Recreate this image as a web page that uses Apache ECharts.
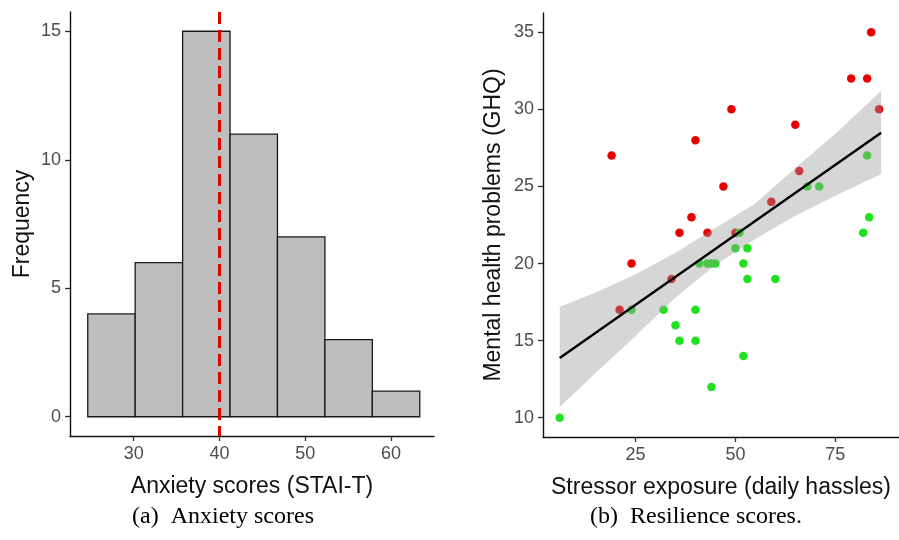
<!DOCTYPE html>
<html>
<head>
<meta charset="utf-8">
<script src="https://cdn.jsdelivr.net/npm/echarts@6/dist/echarts.min.js"></script>
<style>
html,body{margin:0;padding:0;background:#fff;}
#c{width:899px;height:540px;}
</style>
</head>
<body>
<div id="c"></div>
<script>
// ---- Panel (a): histogram of anxiety scores ----
const binStart = [24.64, 30.17, 35.70, 41.23, 46.76, 52.29, 57.82];
const binEnd   = [30.17, 35.70, 41.23, 46.76, 52.29, 57.82, 63.35];
const counts   = [4, 6, 15, 11, 7, 3, 1];
const meanAnxiety = 40;
const histXTicks = [30, 40, 50, 60];
const histYTicks = [0, 5, 10, 15];

// ---- Panel (b): stressor exposure vs mental health ----
const highX = [19, 49, 40, 65, 79, 83, 84, 86, 47, 39, 36, 66, 59, 43, 50, 24, 34, 21];
const highY = [27, 30, 28, 29, 32, 32, 35, 30, 25, 23, 22, 26, 24, 22, 22, 20, 19, 17];
const lowX  = [83, 68, 71, 83.5, 82, 51, 24, 32, 40, 35, 36, 40, 52, 44, 6, 41, 43, 44, 45, 50, 53, 52, 53, 60];
const lowY  = [27, 25, 25, 23, 22, 22, 17, 17, 17, 16, 15, 15, 14, 12, 10, 20, 20, 20, 20, 21, 21, 20, 19, 19];
const fitX = [6, 86.5];
const fitY = [13.87, 28.48];
const bandX     = [6, 15, 25, 35, 45, 55, 65, 75, 86.5];
const bandUpper = [17.2, 18.1, 19.3, 20.7, 22.3, 23.9, 26.2, 28.4, 31.2];
const bandLower = [10.7, 12.9, 15.3, 17.8, 19.9, 21.6, 23.1, 24.4, 25.8];
const scatXTicks = [25, 50, 75];
const scatYTicks = [10, 15, 20, 25, 30, 35];

const labelFont = {fontFamily: 'Liberation Sans', fontSize: 18, color: '#4d4d4d'};
const titleFont = {fontFamily: 'Liberation Sans', fontSize: 23, color: '#111'};

function axisBase(ticks) {
  return {
    type: 'value',
    splitLine: {show: false},
    axisLine: {show: true, onZero: false, lineStyle: {color: '#111', width: 1.4}},
    axisTick: {show: true, length: 5, lineStyle: {color: '#333', width: 1.3}, customValues: ticks},
    axisLabel: Object.assign({customValues: ticks, margin: 9}, labelFont),
    nameLocation: 'middle',
    nameTextStyle: titleFont
  };
}

const chart = echarts.init(document.getElementById('c'), null, {renderer: 'canvas'});

const option = {
  backgroundColor: '#fff',
  animation: false,
  grid: [
    {left: 70, top: 12, width: 364, height: 424},
    {left: 543, top: 13, width: 368, height: 424}
  ],
  xAxis: [
    Object.assign(axisBase(histXTicks), {gridIndex: 0, min: 22.57, max: 65.01, name: 'Anxiety scores (STAI-T)', nameGap: 39}),
    Object.assign(axisBase(scatXTicks), {gridIndex: 1, min: 1.82, max: 90.97, name: 'Stressor exposure (daily hassles)', nameGap: 39})
  ],
  yAxis: [
    Object.assign(axisBase(histYTicks), {gridIndex: 0, min: -0.75, max: 15.75, name: 'Frequency', nameGap: 36}),
    Object.assign(axisBase(scatYTicks), {gridIndex: 1, min: 8.75, max: 36.25, name: 'Mental health problems (GHQ)', nameGap: 38})
  ],
  series: [
    {
      type: 'custom',
      xAxisIndex: 0, yAxisIndex: 0,
      data: counts.map((c, i) => [binStart[i], binEnd[i], c]),
      encode: {x: [0, 1], y: 2},
      z: 2,
      renderItem: function (params, api) {
        const p0 = api.coord([api.value(0), 0]);
        const p1 = api.coord([api.value(1), api.value(2)]);
        return {
          type: 'rect',
          shape: {x: p0[0], y: p1[1], width: p1[0] - p0[0], height: p0[1] - p1[1]},
          style: {fill: '#bebebe', stroke: '#1a1a1a', lineWidth: 1.3}
        };
      }
    },
    {
      type: 'line',
      xAxisIndex: 0, yAxisIndex: 0,
      data: [[meanAnxiety, 15.75], [meanAnxiety, -0.75]],
      symbol: 'none',
      z: 3,
      lineStyle: {color: '#e00000', width: 3, type: [12, 6]}
    },
    {
      type: 'scatter',
      xAxisIndex: 1, yAxisIndex: 1,
      data: highX.map((x, i) => [x, highY[i]]),
      symbolSize: 8.5,
      itemStyle: {color: '#e60000', opacity: 1},
      z: 2
    },
    {
      type: 'scatter',
      xAxisIndex: 1, yAxisIndex: 1,
      data: lowX.map((x, i) => [x, lowY[i]]),
      symbolSize: 8.5,
      itemStyle: {color: '#1ee21e', opacity: 1},
      z: 2
    },
    {
      type: 'custom',
      xAxisIndex: 1, yAxisIndex: 1,
      data: [[bandX[0], bandLower[0]]],
      encode: {x: 0, y: 1},
      z: 3,
      renderItem: function (params, api) {
        const pts = [];
        for (let i = 0; i < bandX.length; i++) pts.push(api.coord([bandX[i], bandUpper[i]]));
        for (let i = bandX.length - 1; i >= 0; i--) pts.push(api.coord([bandX[i], bandLower[i]]));
        return {type: 'polygon', shape: {points: pts}, style: {fill: 'rgba(153,153,153,0.4)'}};
      }
    },
    {
      type: 'line',
      xAxisIndex: 1, yAxisIndex: 1,
      data: fitX.map((x, i) => [x, fitY[i]]),
      symbol: 'none',
      z: 4,
      lineStyle: {color: '#000', width: 2.4}
    }
  ],
  graphic: [
    {type: 'text', x: 223, y: 517, style: {text: '(a)  Anxiety scores', font: '24px "Liberation Serif"', fill: '#000', textAlign: 'center', textVerticalAlign: 'middle'}},
    {type: 'text', x: 696, y: 517, style: {text: '(b)  Resilience scores.', font: '24px "Liberation Serif"', fill: '#000', textAlign: 'center', textVerticalAlign: 'middle'}}
  ]
};
chart.setOption(option);
</script>
</body>
</html>
